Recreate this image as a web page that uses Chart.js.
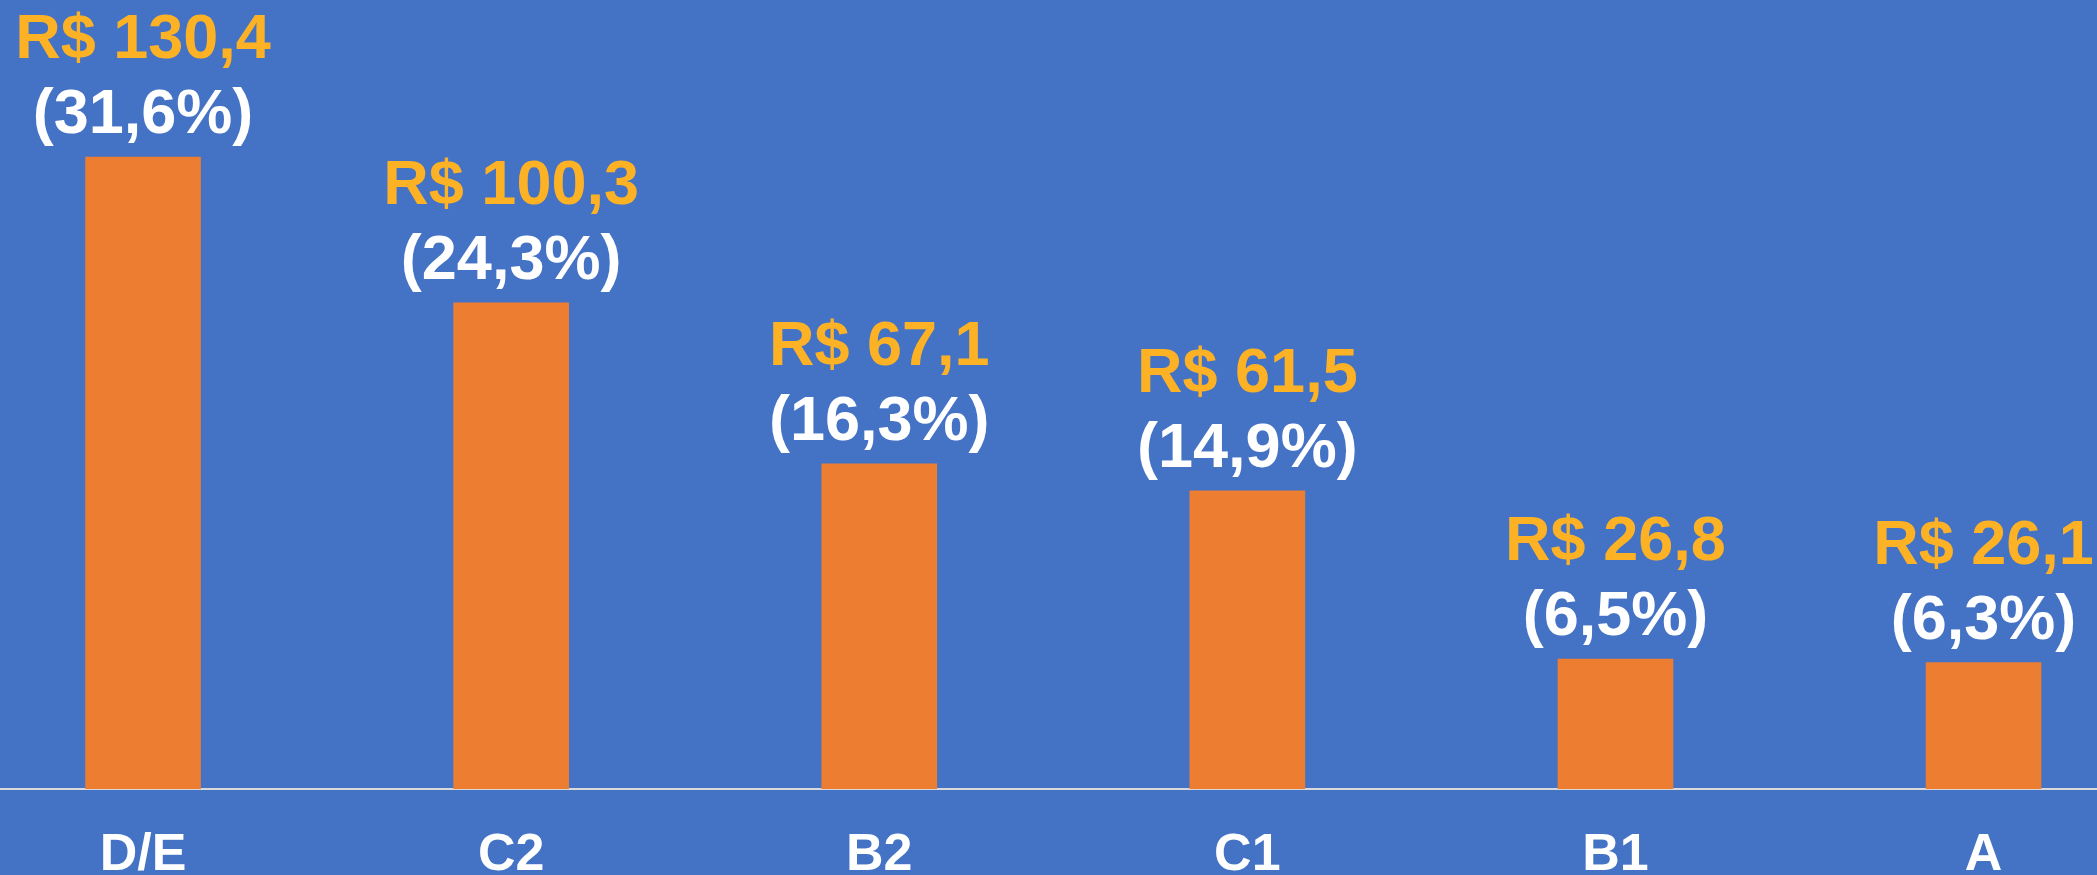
<!DOCTYPE html>
<html>
<head>
<meta charset="utf-8">
<script src="https://cdn.jsdelivr.net/npm/chart.js@4.4.0/dist/chart.umd.min.js"></script>
<style>
  html, body { margin: 0; padding: 0; background: #4472C4; overflow: hidden; }
  #frame { width: 2097px; height: 875px; position: relative; overflow: hidden; }
  /* a área do gráfico é um pouco maior que a imagem (recortada) */
  #wrap { position: absolute; left: -41.5px; top: 0; width: 2208.6px; height: 921.4px; }
</style>
</head>
<body>
<div id="frame"><div id="wrap"><canvas id="classeChart"></canvas></div></div>
<script>
const categories = ['D/E', 'C2', 'B2', 'C1', 'B1', 'A'];
const valores = [130.4, 100.3, 67.1, 61.5, 26.8, 26.1];
const participacao = [31.6, 24.3, 16.3, 14.9, 6.5, 6.3];

const fmt = v => v.toFixed(1).replace('.', ',');

// rótulos acima das barras: valor em R$ e participação
const rotulos = {
  id: 'rotulos',
  afterDatasetsDraw(chart) {
    const ctx = chart.ctx;
    const meta = chart.getDatasetMeta(0);
    ctx.save();
    ctx.textAlign = 'center';
    ctx.textBaseline = 'alphabetic';
    ctx.font = 'bold 63px "Liberation Sans", Arial, sans-serif';
    meta.data.forEach((bar, i) => {
      ctx.fillStyle = '#FDB226';
      ctx.fillText('R$ ' + fmt(valores[i]), bar.x, bar.y - 99);
      ctx.fillStyle = '#FFFFFF';
      ctx.fillText('(' + fmt(participacao[i]) + '%)', bar.x, bar.y - 24);
    });
    ctx.restore();
  }
};

const ctx = document.getElementById('classeChart').getContext('2d');
new Chart(ctx, {
  type: 'bar',
  data: {
    labels: categories,
    datasets: [{
      data: valores,
      backgroundColor: '#ED7D31',
      borderWidth: 0,
      barThickness: 115
    }]
  },
  options: {
    responsive: true,
    maintainAspectRatio: false,
    animation: false,
    layout: { padding: 0 },
    plugins: {
      legend: { display: false },
      tooltip: { enabled: false }
    },
    scales: {
      y: { display: false, min: 0, max: 162.8 },
      x: {
        grid: { display: false, drawTicks: false },
        border: { display: true, color: '#D9D9D9', width: 2 },
        ticks: {
          color: '#FFFFFF',
          padding: 35,
          font: { family: '"Liberation Sans", Arial, sans-serif', size: 52, weight: 'bold' }
        }
      }
    }
  },
  plugins: [rotulos]
});
</script>
</body>
</html>
